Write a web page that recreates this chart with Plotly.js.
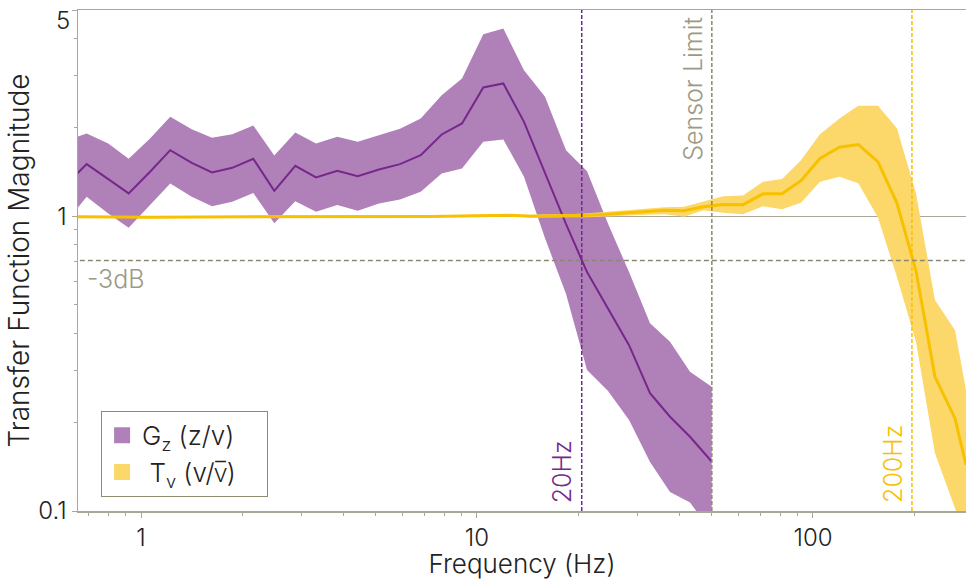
<!DOCTYPE html>
<html>
<head>
<meta charset="utf-8">
<script src="https://cdn.plot.ly/plotly-3.0.1.min.js"></script>
<style>html,body{margin:0;padding:0;background:#fff;}#chart{width:966px;height:579px;}</style>
</head>
<body>
<div id="chart"></div>
<script>
// ---- Data ----
// G_z (z/v): frequency (Hz), mean magnitude, upper and lower band
var fz = [0.646, 0.689, 0.799, 0.919, 1.064, 1.222, 1.416, 1.627, 1.869, 2.159, 2.493, 2.879, 3.318, 3.839, 4.415, 5.109, 5.900, 6.800, 7.851, 9.024, 10.44, 11.98, 13.80, 15.94, 18.41, 21.26, 24.55, 28.35, 32.73, 37.54, 43.05, 49.93];
var gzMid = [1.395, 1.501, 1.335, 1.194, 1.414, 1.674, 1.516, 1.406, 1.458, 1.564, 1.218, 1.481, 1.353, 1.424, 1.366, 1.440, 1.501, 1.610, 1.892, 2.062, 2.731, 2.818, 2.088, 1.395, 0.939, 0.646, 0.484, 0.365, 0.251, 0.2088, 0.1786, 0.1472];
var gzUp = [1.857, 1.907, 1.764, 1.564, 1.834, 2.171, 1.972, 1.843, 1.897, 2.030, 1.606, 1.922, 1.764, 1.857, 1.786, 1.882, 1.977, 2.144, 2.572, 2.930, 4.140, 4.328, 3.126, 2.538, 1.674, 1.421, 0.942, 0.646, 0.433, 0.375, 0.2966, 0.2638];
var gzLo = [1.062, 1.163, 1.021, 0.913, 1.090, 1.291, 1.163, 1.081, 1.118, 1.199, 0.945, 1.124, 1.034, 1.090, 1.042, 1.104, 1.139, 1.209, 1.395, 1.451, 1.786, 1.820, 1.359, 0.842, 0.544, 0.3006, 0.255, 0.2035, 0.1466, 0.116, 0.1069, 0.0848];

// T_v (v/v̄)
var ft = [0.649, 1.064, 2.11, 4.18, 7.25, 12.54, 14.38, 16.38, 18.66, 21.39, 24.37, 27.76, 31.84, 36.27, 41.32, 47.16, 54.08, 61.9, 71.0, 80.9, 92.1, 104.9, 119.9, 136.4, 156.1, 177.8, 202.6, 230.7, 264.7, 285.4];
var tvMid = [0.9961, 0.9922, 0.9945, 0.9945, 0.9977, 1.0078, 1.0, 1.0016, 1.0039, 1.0078, 1.0157, 1.0261, 1.0357, 1.0479, 1.0422, 1.0753, 1.0955, 1.0939, 1.190, 1.190, 1.319, 1.569, 1.713, 1.750, 1.527, 1.107, 0.651, 0.2852, 0.2061, 0.1432];
var tvUp = [1.0039, 1.0, 1.0039, 1.0039, 1.0078, 1.0157, 1.0118, 1.0157, 1.0157, 1.0237, 1.0357, 1.0479, 1.0603, 1.0728, 1.0753, 1.1180, 1.1690, 1.1752, 1.3070, 1.3351, 1.5478, 1.8967, 2.1443, 2.3662, 2.3662, 1.9871, 1.1938, 0.5193, 0.4105, 0.2570];
var tvLo = [0.9884, 0.9845, 0.9884, 0.9884, 0.9922, 1.0, 0.9884, 0.9922, 0.9922, 0.9922, 0.9961, 1.0039, 1.0118, 1.0157, 0.9945, 1.0479, 1.0261, 1.0157, 1.0812, 1.0562, 1.1111, 1.3070, 1.3612, 1.2937, 0.9884, 0.6212, 0.3742, 0.1569, 0.1021, 0.0766];

// Reference markers
var cutGz = 20.5;      // "20Hz" -3dB point
var cutTv = 197;       // "200Hz" -3dB point
var sensorLimit = 50;  // Hz
var minus3dB = 0.7071;

// Ticks
var xTicks = [1, 10, 100];
var xTickText = ['1', '10', '100'];
var xMinor = [0.7, 0.8, 0.9, 2, 3, 4, 5, 6, 7, 8, 9, 20, 30, 40, 50, 60, 70, 80, 90, 200];
var yTicks = [0.1, 1, 5];
var yTickText = ['0.1', '1', '5'];
var yMinor = [0.2, 0.3, 0.4, 0.5, 0.6, 0.7, 0.8, 0.9, 2, 3, 4];

var legendNames = ['G<sub>z</sub> (z/v)\u2003', '\u00a0T<sub>v</sub> (v/v\u0305)\u2003'];

// ---- Styles ----
var purpleBand = '#b081b9', purpleLine = '#76278a';
var yellowBand = '#fcd76a', yellowLine = '#f7c100';
var greyLine = '#a9a795', greyText = '#9c9a86', txt = '#222222';
var FONT = 'Inter, Roboto, "Noto Sans", sans-serif';

function band(x, up, lo, color) {
  return {
    type: 'scatter', mode: 'lines',
    x: x.concat(x.slice().reverse()),
    y: up.concat(lo.slice().reverse()),
    fill: 'toself', fillcolor: color, line: {width: 0, color: color},
    showlegend: false, hoverinfo: 'skip'
  };
}

var traces = [
  band(fz, gzUp, gzLo, purpleBand),
  {type: 'scatter', mode: 'lines', x: fz, y: gzMid, line: {color: purpleLine, width: 2}, showlegend: false},
  band(ft, tvUp, tvLo, yellowBand),
  {type: 'scatter', mode: 'lines', x: ft, y: tvMid, line: {color: yellowLine, width: 3}, showlegend: false},
  // reference lines
  {type: 'scatter', mode: 'lines', x: [0.5, 400], y: [minus3dB, minus3dB], line: {color: '#8a8872', width: 1.5, dash: '5px,3px'}, showlegend: false},
  {type: 'scatter', mode: 'lines', x: [cutGz, cutGz], y: [0.1, 5], line: {color: purpleLine, width: 1.5, dash: '4px,2px'}, showlegend: false},
  {type: 'scatter', mode: 'lines', x: [sensorLimit, sensorLimit], y: [0.1, 5], line: {color: '#8a8872', width: 1.5, dash: '4px,2px'}, showlegend: false},
  {type: 'scatter', mode: 'lines', x: [cutTv, cutTv], y: [0.1, 5], line: {color: yellowLine, width: 1.5, dash: '4px,2px'}, showlegend: false},
  // legend entries
  {type: 'scatter', mode: 'markers', x: [null], y: [null], name: legendNames[0], marker: {symbol: 'square', size: 23, color: purpleBand}},
  {type: 'scatter', mode: 'markers', x: [null], y: [null], name: legendNames[1], marker: {symbol: 'square', size: 23, color: yellowBand}}
];

var layout = {
  width: 966, height: 579,
  margin: {l: 78, r: 0, t: 10, b: 68},
  paper_bgcolor: '#fff', plot_bgcolor: '#fff',
  font: {family: FONT, size: 24, color: txt, weight: 300},
  xaxis: {
    type: 'log', range: [-0.1875, 2.4554],
    tickmode: 'array', tickvals: xTicks, ticktext: xTickText,
    ticks: 'outside', ticklen: 5, tickcolor: greyLine, tickwidth: 1,
    minor: {tickmode: 'array', tickvals: xMinor, ticks: 'outside', ticklen: 3, tickcolor: greyLine, showgrid: false},
    showline: true, mirror: true, linecolor: greyLine, linewidth: 1.5,
    showgrid: false, zeroline: false, ticklabeloverflow: 'allow',
    tickfont: {family: FONT, size: 24, color: txt, weight: 300},
    title: {text: 'Frequency (Hz)', font: {family: FONT, size: 26, color: txt, weight: 300}, standoff: 12}
  },
  yaxis: {
    type: 'log', range: [-1, 0.69905],
    tickmode: 'array', tickvals: yTicks, ticktext: yTickText,
    ticks: 'outside', ticklen: 5, tickcolor: greyLine, tickwidth: 1,
    minor: {tickmode: 'array', tickvals: yMinor, ticks: 'outside', ticklen: 3, tickcolor: greyLine, showgrid: false},
    showline: true, linecolor: greyLine, linewidth: 1.5,
    showgrid: true, gridcolor: greyLine, gridwidth: 1.2, zeroline: false, ticklabeloverflow: 'allow',
    tickfont: {family: FONT, size: 24, color: txt, weight: 300},
    title: {text: 'Transfer Function Magnitude', font: {family: FONT, size: 28, color: txt, weight: 300}, standoff: 0}
  },
  showlegend: true,
  legend: {
    x: 0.026, y: 0.2, xanchor: 'left', yanchor: 'top',
    bgcolor: '#fff', bordercolor: '#8f8c72', borderwidth: 1,
    font: {family: FONT, size: 26, color: txt, weight: 300},
    itemsizing: 'trace', tracegroupgap: 0
  },
  annotations: [
    {xref: 'x', yref: 'paper', x: Math.log10(sensorLimit), y: 0.99, xanchor: 'right', yanchor: 'top', xshift: -2,
     text: 'Sensor Limit', textangle: -90, showarrow: false, font: {family: FONT, size: 25, color: greyText, weight: 300}},
    {xref: 'x', yref: 'paper', x: Math.log10(cutGz), y: 0.012, xanchor: 'right', yanchor: 'bottom', xshift: -2,
     text: '20Hz', textangle: -90, showarrow: false, font: {family: FONT, size: 25, color: purpleLine, weight: 300}},
    {xref: 'x', yref: 'paper', x: Math.log10(cutTv), y: 0.012, xanchor: 'right', yanchor: 'bottom', xshift: -2,
     text: '200Hz', textangle: -90, showarrow: false, font: {family: FONT, size: 25, color: yellowLine, weight: 300}},
    {xref: 'paper', yref: 'y', x: 0.008, y: Math.log10(minus3dB), xanchor: 'left', yanchor: 'top', yshift: -1,
     text: '-3dB', showarrow: false, font: {family: FONT, size: 25, color: greyText, weight: 300}}
  ]
};

// The top tick label "5" sits just below the top edge in the reference
layout.yaxis.ticktext = yTickText.map(function (t, i) { return yTicks[i] === 5 ? '' : t; });
layout.annotations.push({xref: 'paper', yref: 'y', x: 0, y: Math.log10(yTicks[2]), xanchor: 'right', yanchor: 'top',
  xshift: -6, yshift: 6, text: yTickText[2], showarrow: false, font: {family: FONT, size: 24, color: txt, weight: 300}});

Plotly.newPlot('chart', traces, layout, {staticPlot: true, displayModeBar: false});
</script>
</body>
</html>
